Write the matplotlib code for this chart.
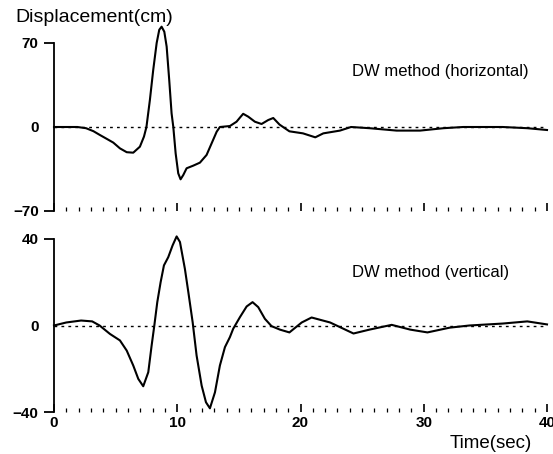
import matplotlib
matplotlib.use("Agg")
from matplotlib import pyplot as plt
from matplotlib.ticker import MultipleLocator

plt.rcParams['font.family'] = ['Liberation Sans', 'DejaVu Sans']

# DW method, horizontal component (time in sec, displacement in cm)
t_h = [0, 1.0, 1.9, 2.6, 3.2, 3.73, 4.3, 4.81, 5.35, 5.9, 6.43, 6.97, 7.3, 7.5, 7.78,
       8.05, 8.33, 8.54, 8.73, 8.95, 9.14, 9.35, 9.54, 9.68, 9.87, 10.08, 10.27, 10.49,
       10.76, 11.3, 11.84, 12.38, 12.79, 13.2, 13.46, 14.27, 14.81, 15.1, 15.35, 15.76,
       16.3, 16.84, 17.38, 17.79, 18.3, 19.1, 20.2, 21.2, 21.85, 23.2, 24.1, 25.6, 27.8,
       29.7, 31.6, 33.2, 36.4, 38.4, 40.0]
d_h = [0, 0, 0, -1, -3.5, -6.7, -10, -13, -17.8, -21, -21.4, -16.4, -8, 0, 22.5,
       47.5, 70, 81, 83.6, 79.4, 67, 39, 11.4, 0, -22, -38.6, -43.6, -40,
       -34.4, -32.2, -29.7, -23.3, -13.6, -3.9, 0, 0.8, 4.4, 8, 11, 8.6,
       4.4, 2.5, 5.8, 7.5, 2, -3.6, -5.3, -8.6, -5.3, -3, 0, -1, -3,
       -3, -1, 0, 0, -1, -2.5]

# DW method, vertical component
t_v = [0, 1.0, 2.2, 3.1, 3.7, 4.54, 5.35, 5.9, 6.43, 6.84, 7.24, 7.65, 7.92, 8.14,
       8.38, 8.65, 8.92, 9.27, 9.62, 9.95, 10.22, 10.62, 10.9, 11.25, 11.57, 11.98,
       12.33, 12.65, 13.06, 13.46, 13.87, 14.27, 14.54, 15.09, 15.63, 16.11, 16.57,
       17.11, 17.65, 18.33, 19.1, 20.1, 20.9, 22.4, 24.3, 25.6, 27.4, 28.9, 30.3,
       32.1, 33.7, 36.4, 38.4, 40.0]
d_v = [0, 1.4, 2.3, 1.9, 0, -3.9, -6.9, -11.6, -18.5, -24.7, -28.1, -21.6, -9.3, 0,
       10.8, 20, 27.8, 31.6, 37, 41.2, 38.6, 26.2, 15.4, 1.5, -13.9, -27.8,
       -35.5, -38.3, -30.9, -18.5, -10, -5.4, -1.5, 3.9, 8.8, 10.8, 8.5,
       3.1, -0.3, -1.9, -3.2, 1.4, 3.7, 1.4, -3.7, -1.9, 0.3, -1.9, -3.2,
       -1, 0, 0.9, 1.9, 0.5]

fig = plt.figure(figsize=(5.53, 4.54), dpi=100)
ax1 = fig.add_axes([54/553, 1-211/454, 493/553, 168/454])
ax2 = fig.add_axes([54/553, 1-412/454, 493/553, 173/454])


def style_axis(ax, lim, show_xlabels):
    ax.set_xlim(0, 40)
    ax.set_ylim(-lim, lim)
    for s in ['top', 'right', 'bottom']:
        ax.spines[s].set_visible(False)
    ax.spines['left'].set_linewidth(1.3)
    ax.set_yticks([-lim, 0, lim])
    ax.set_yticklabels([str(-lim).replace('-', '\u2212'), '0', str(lim)],
                       fontsize=11, fontweight='bold')
    ax.tick_params(axis='y', direction='out', length=7, width=1.3, pad=4)
    ax.yaxis.get_major_ticks()[1].tick1line.set_visible(False)
    ax.xaxis.set_major_locator(MultipleLocator(10))
    ax.xaxis.set_minor_locator(MultipleLocator(1))
    ax.tick_params(axis='x', which='major', direction='in', length=6, width=1.2,
                   pad=3, labelsize=11, labelbottom=show_xlabels)
    ax.tick_params(axis='x', which='minor', direction='in', length=3, width=0.9)
    for lbl in ax.get_xticklabels():
        lbl.set_fontweight('bold')
    ax.axhline(0, color='black', lw=1.0, ls=(0, (2, 3)))


style_axis(ax1, 70, False)
style_axis(ax2, 40, True)

ax1.plot(t_h, d_h, color='black', lw=1.5, clip_on=False, solid_joinstyle='round')
ax2.plot(t_v, d_v, color='black', lw=1.5, clip_on=False, solid_joinstyle='round')

ax1.text(24.2, 46, 'DW method (horizontal)', fontsize=12, va='center')
ax2.text(24.2, 24.5, 'DW method (vertical)', fontsize=12, va='center')

fig.text(15/553, 1-18/454, 'Displacement(cm)', fontsize=14, va='center')
fig.text(450/553, 1-443/454, 'Time(sec)', fontsize=13.5, va='center')

plt.savefig('out.png', dpi=100)
plt.close()
